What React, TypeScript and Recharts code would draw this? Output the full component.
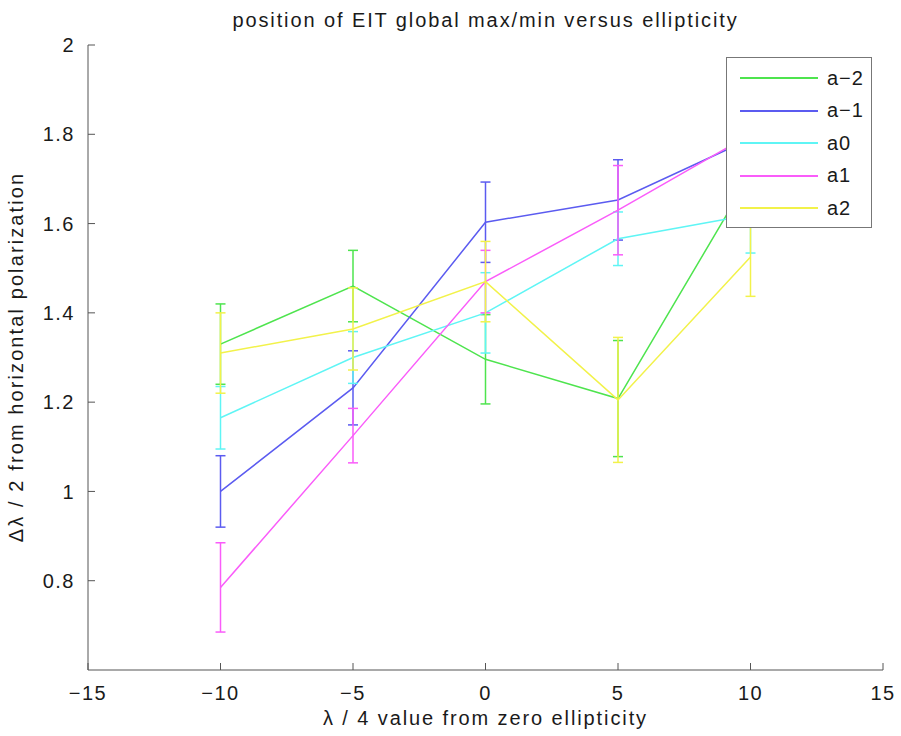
import { LineChart, Line, XAxis, YAxis, ErrorBar } from 'recharts';

// λ/4 offsets from zero ellipticity
const xValues = [-10, -5, 0, 5, 10];

const aM2 = [1.33, 1.46, 1.296, 1.208, 1.71];
const aM2Err = [0.09, 0.08, 0.1, 0.13, 0.09];
const aM1 = [1.0, 1.232, 1.603, 1.653, 1.79];
const aM1Err = [0.08, 0.083, 0.09, 0.09, 0.09];
const a0 = [1.165, 1.3, 1.4, 1.566, 1.62];
const a0Err = [0.07, 0.058, 0.09, 0.06, 0.086];
const a1 = [0.785, 1.125, 1.47, 1.63, 1.8];
const a1Err = [0.1, 0.061, 0.07, 0.1, 0.09];
const a2 = [1.31, 1.364, 1.47, 1.205, 1.525];
const a2Err = [0.09, 0.092, 0.09, 0.14, 0.088];

const seriesNames = ['a\u22122', 'a\u22121', 'a0', 'a1', 'a2'];
const seriesValues = [aM2, aM1, a0, a1, a2];
const seriesErrors = [aM2Err, aM1Err, a0Err, a1Err, a2Err];
const COLORS = ['#4ee44e', '#5b5bf0', '#5ff5f5', '#fa5cfa', '#f2f24a'];

const xTicks = [-15, -10, -5, 0, 5, 10, 15];
const yTicks = [0.8, 1, 1.2, 1.4, 1.6, 1.8, 2];

const FONT = '"Liberation Sans", Arial, sans-serif';
const TEXT = '#1a1a1a';
const AXIS = '#555';

const series = seriesNames.map((name, i) => ({
    name,
    color: COLORS[i],
    data: xValues.map((x, j) => ({ x, y: seriesValues[i][j], e: seriesErrors[i][j] })),
}));

const minus = (v: number) => String(v).replace('-', '\u2212');

// matlab style ticks: mark points into the plot, label outside
function XTick({ x, y, payload }: any) {
    return (
        <g>
            <line x1={x} x2={x} y1={y} y2={y - 7} stroke={AXIS} />
            <text x={x} y={y + 16} dy="0.71em" textAnchor="middle" fill={TEXT} fontSize={20} letterSpacing={1.5}>
                {minus(payload.value)}
            </text>
        </g>
    );
}

function YTick({ x, y, payload }: any) {
    return (
        <g>
            <line x1={x} x2={x + 7} y1={y} y2={y} stroke={AXIS} />
            <text x={x - 13} y={y} dy="0.355em" textAnchor="end" fill={TEXT} fontSize={20} letterSpacing={1.5}>
                {payload.value}
            </text>
        </g>
    );
}

// legend drawn over the plot like matlab's, lines pass underneath it
function LegendBox() {
    return (
        <div
            style={{
                position: 'absolute',
                left: 726,
                top: 57,
                width: 146,
                height: 171,
                border: '1.5px solid #777',
                background: '#fff',
                boxSizing: 'border-box',
                paddingTop: 4,
            }}
        >
            {series.map(s => (
                <div key={s.name} style={{ display: 'flex', alignItems: 'center', height: 32.5 }}>
                    <div style={{ width: 78, height: 2, background: s.color, marginLeft: 13 }} />
                    <span style={{ marginLeft: 9, fontSize: 20, color: TEXT, letterSpacing: 1 }}>{s.name}</span>
                </div>
            ))}
        </div>
    );
}

export default function App() {
    return (
        <div style={{ position: 'absolute', left: 0, top: 0, width: 901, height: 736, background: '#fff', fontFamily: FONT }}>
            <div style={{ position: 'absolute', top: 9, left: 88, width: 795, textAlign: 'center', fontSize: 20, color: TEXT, letterSpacing: 1.9 }}>
                position of EIT global max/min versus ellipticity
            </div>
            <div
                style={{
                    position: 'absolute',
                    left: 16,
                    top: 357,
                    transform: 'translate(-50%, -50%) rotate(-90deg)',
                    whiteSpace: 'nowrap',
                    fontSize: 20,
                    color: TEXT,
                    letterSpacing: 2.1,
                }}
            >
                Δλ / 2 from horizontal polarization
            </div>
            <div style={{ position: 'absolute', top: 707, left: 88, width: 795, textAlign: 'center', fontSize: 20, color: TEXT, letterSpacing: 1.9 }}>
                λ / 4 value from zero ellipticity
            </div>
            <LineChart width={901} height={736} margin={{ top: 45, right: 18, bottom: 6, left: 0 }}>
                <XAxis
                    type="number"
                    dataKey="x"
                    domain={[-15, 15]}
                    ticks={xTicks}
                    allowDataOverflow
                    height={60}
                    stroke={AXIS}
                    tickLine={false}
                    tickSize={0}
                    tickMargin={0}
                    tick={<XTick />}
                />
                <YAxis
                    type="number"
                    domain={[0.6, 2]}
                    ticks={yTicks}
                    allowDataOverflow
                    width={88}
                    stroke={AXIS}
                    tickLine={false}
                    tickSize={0}
                    tickMargin={0}
                    tick={<YTick />}
                />
                {series.map(s => (
                    <Line
                        key={s.name}
                        data={s.data}
                        dataKey="y"
                        name={s.name}
                        stroke={s.color}
                        strokeWidth={1.5}
                        dot={false}
                        activeDot={false}
                        isAnimationActive={false}
                    >
                        <ErrorBar dataKey="e" width={5} stroke={s.color} strokeWidth={1.5} direction="y" />
                    </Line>
                ))}
            </LineChart>
            <LegendBox />
        </div>
    );
}
